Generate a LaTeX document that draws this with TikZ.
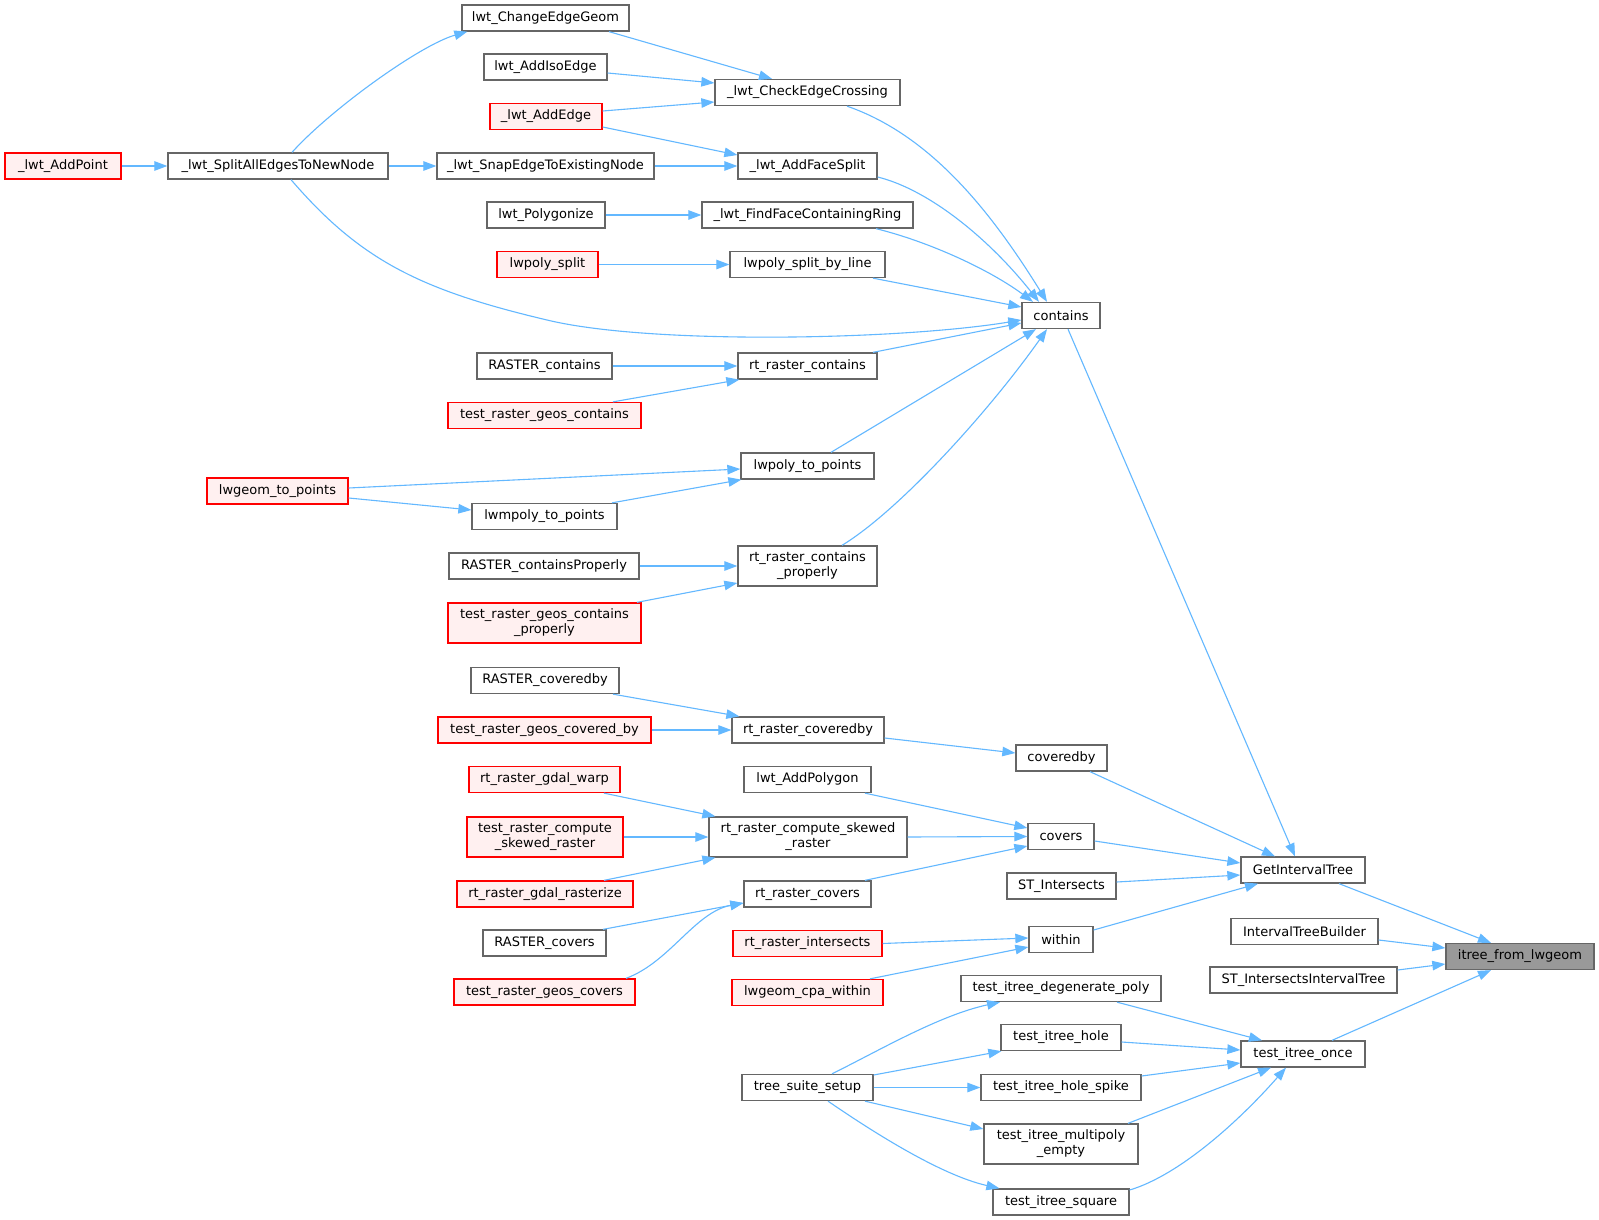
\documentclass[tikz,border=0pt]{standalone}
\usepackage{fontspec}
\setmainfont{DejaVu Sans}
\usetikzlibrary{arrows.meta,calc}
\definecolor{edgeblue}{HTML}{63B8FF}
\definecolor{nodegray}{HTML}{666666}
\definecolor{redfill}{HTML}{FFF0F0}
\definecolor{rootfill}{HTML}{999999}
\tikzset{
 fn/.style={draw=nodegray, fill=white, line width=1.3pt, minimum height=26pt, inner sep=0pt, font=\fontsize{13}{15}\selectfont, text=black, align=center},
 fnred/.style={fn, draw=red, fill=redfill},
 fnroot/.style={fn, fill=rootfill},
 two/.style={minimum height=40pt},
 call/.style={draw=edgeblue, line width=1.1pt, -{Triangle[length=13pt,width=9.5pt]}},
}
\begin{document}
\begin{tikzpicture}[x=1pt,y=-1pt]
\useasboundingbox (0,0) rectangle (1599,1220);
\fill[white] (0,0) rectangle (1599,1220);
% nodes
\node[fn, minimum width=167pt] (ceg) at (545.5,18) {lwt\_ChangeEdgeGeom};
\node[fn, minimum width=123pt] (aie) at (545.5,67) {lwt\_AddIsoEdge};
\node[fnred, minimum width=112pt] (ae) at (546,116.5) {\_lwt\_AddEdge};
\node[fn, minimum width=185pt] (cec) at (807.5,92.5) {\_lwt\_CheckEdgeCrossing};
\node[fnred, minimum width=116pt] (ap) at (63,166) {\_lwt\_AddPoint};
\node[fn, minimum width=220pt] (sae) at (278,166) {\_lwt\_SplitAllEdgesToNewNode};
\node[fn, minimum width=217pt] (snap) at (545.5,166) {\_lwt\_SnapEdgeToExistingNode};
\node[fn, minimum width=139pt] (afs) at (807.5,166) {\_lwt\_AddFaceSplit};
\node[fn, minimum width=118pt] (poly) at (546,215) {lwt\_Polygonize};
\node[fn, minimum width=211pt] (ffcr) at (807.5,215) {\_lwt\_FindFaceContainingRing};
\node[fnred, minimum width=101pt] (lps) at (547.5,264.5) {lwpoly\_split};
\node[fn, minimum width=155pt] (lpsbl) at (807.5,264.5) {lwpoly\_split\_by\_line};
\node[fn, minimum width=78pt] (cont) at (1061,315.5) {contains};
\node[fn, minimum width=135pt] (rc) at (544.5,366) {RASTER\_contains};
\node[fn, minimum width=139pt] (rrc) at (807.5,366) {rt\_raster\_contains};
\node[fnred, minimum width=193pt] (trgc) at (544.5,415.5) {test\_raster\_geos\_contains};
\node[fn, minimum width=133pt] (lptp) at (807.5,466) {lwpoly\_to\_points};
\node[fnred, minimum width=141pt] (lgtp) at (277.5,491) {lwgeom\_to\_points};
\node[fn, minimum width=145pt] (lmtp) at (544.5,516.5) {lwmpoly\_to\_points};
\node[fn, minimum width=190pt] (rcp) at (544,566) {RASTER\_containsProperly};
\node[fn, two, minimum width=139pt] (rrcp) at (807.5,566) {rt\_raster\_contains\\\_properly};
\node[fnred, two, minimum width=193pt] (trgcp) at (544.5,623) {test\_raster\_geos\_contains\\\_properly};
\node[fn, minimum width=148pt] (rcb) at (545,680.5) {RASTER\_coveredby};
\node[fnred, minimum width=213pt] (trgcb) at (544.5,730) {test\_raster\_geos\_covered\_by};
\node[fn, minimum width=152pt] (rrcb) at (808,730) {rt\_raster\_coveredby};
\node[fn, minimum width=91pt] (cb) at (1061.5,758) {coveredby};
\node[fnred, minimum width=151pt] (rgw) at (544.5,779.5) {rt\_raster\_gdal\_warp};
\node[fn, minimum width=127pt] (lap) at (807.5,779.5) {lwt\_AddPolygon};
\node[fnred, two, minimum width=156pt] (trcsr) at (545,837) {test\_raster\_compute\\\_skewed\_raster};
\node[fn, two, minimum width=198pt] (rrcsr) at (808,837) {rt\_raster\_compute\_skewed\\\_raster};
\node[fn, minimum width=66pt] (cov) at (1061,836.5) {covers};
\node[fn, minimum width=124pt] (git) at (1303,870) {GetIntervalTree};
\node[fn, minimum width=109pt] (sti) at (1061.5,886) {ST\_Intersects};
\node[fnred, minimum width=176pt] (rgr) at (545,894) {rt\_raster\_gdal\_rasterize};
\node[fn, minimum width=127pt] (rrcv) at (807.5,894) {rt\_raster\_covers};
\node[fn, minimum width=147pt] (itb) at (1304.5,931.5) {IntervalTreeBuilder};
\node[fn, minimum width=64pt] (win) at (1061,939.5) {within};
\node[fn, minimum width=123pt] (rcv) at (544.5,943) {RASTER\_covers};
\node[fnred, minimum width=149pt] (rri) at (807.5,943.5) {rt\_raster\_intersects};
\node[fnroot, minimum width=148pt] (itl) at (1520,956.5) {itree\_from\_lwgeom};
\node[fn, minimum width=187pt] (stiit) at (1303.5,980) {ST\_IntersectsIntervalTree};
\node[fnred, minimum width=181pt] (trgcv) at (544.5,992) {test\_raster\_geos\_covers};
\node[fnred, minimum width=151pt] (lcw) at (807.5,992.5) {lwgeom\_cpa\_within};
\node[fn, minimum width=200pt] (tidp) at (1061,988.5) {test\_itree\_degenerate\_poly};
\node[fn, minimum width=120pt] (tih) at (1061,1037.5) {test\_itree\_hole};
\node[fn, minimum width=124pt] (tio) at (1303,1054) {test\_itree\_once};
\node[fn, minimum width=131pt] (tss) at (807.5,1087.5) {tree\_suite\_setup};
\node[fn, minimum width=160pt] (tihs) at (1061,1087.5) {test\_itree\_hole\_spike};
\node[fn, two, minimum width=154pt] (timp) at (1061,1144) {test\_itree\_multipoly\\\_empty};
\node[fn, minimum width=136pt] (tisq) at (1061,1202) {test\_itree\_square};
% edges
\draw[call] (ap.east) -- (sae.west);
\draw[call] ($(sae.north)+(14,0)$) .. controls (330,110) and (420,45) .. ($(ceg.south west)+(6,0)$);
\draw[call] (sae.east) -- (snap.west);
\draw[call] ($(sae.south)+(13,0)$) .. controls (360,260) and (420,290) .. (547,320) .. controls (650,345) and (900,340) .. ($(cont.west)+(0,4.5)$);
\draw[call] ($(ceg.south)+(63.5,0)$) -- ($(cec.north)+(-35.5,0)$);
\draw[call] ($(aie.east)+(0,6)$) -- ($(cec.west)+(0,-9.5)$);
\draw[call] ($(ae.east)+(0,-5.5)$) -- ($(cec.west)+(0,9.5)$);
\draw[call] ($(ae.east)+(0,10.5)$) -- ($(afs.west)+(0,-11)$);
\draw[call] (snap.east) -- (afs.west);
\draw[call] (poly.east) -- (ffcr.west);
\draw[call] (lps.east) -- (lpsbl.west);
\draw[call] ($(cec.south)+(39.5,0)$) .. controls (930,135) and (990,210) .. ($(cont.north)+(-14,0)$);
\draw[call] ($(afs.east)+(0,11)$) .. controls (930,190) and (990,240) .. ($(cont.north)+(-22,0)$);
\draw[call] ($(ffcr.south)+(68.5,0)$) .. controls (930,242) and (990,270) .. ($(cont.north)+(-28,0)$);
\draw[call] ($(lpsbl.south)+(65.5,0)$) -- ($(cont.west)+(0,-8.5)$);
\draw[call] ($(rrc.north)+(65.5,0)$) -- ($(cont.west)+(0,7.5)$);
\draw[call] ($(lptp.north)+(23.5,0)$) -- ($(cont.south)+(-25,0)$);
\draw[call] ($(rrcp.north)+(34.5,0)$) .. controls (900,510) and (990,410) .. ($(cont.south)+(-14,0)$);
\draw[call] (rc.east) -- (rrc.west);
\draw[call] ($(trgc.north)+(68.5,0)$) -- ($(rrc.south west)+(2,0)$);
\draw[call] ($(lgtp.east)+(0,-3)$) -- ($(lptp.west)+(0,3)$);
\draw[call] ($(lgtp.east)+(0,7)$) -- ($(lmtp.west)+(0,-6.5)$);
\draw[call] ($(lmtp.north)+(67.5,0)$) -- ($(lptp.south west)+(1,0)$);
\draw[call] (rcp.east) -- (rrcp.west);
\draw[call] ($(trgcp.north)+(92.5,0)$) -- ($(rrcp.west)+(0,17)$);
\draw[call] ($(cont.south)+(7,0)$) -- ($(git.north)+(-8,0)$);
\draw[call] ($(rcb.south)+(68,0)$) -- ($(rrcb.north west)+(8,0)$);
\draw[call] (trgcb.east) -- (rrcb.west);
\draw[call] ($(rrcb.east)+(0,8)$) -- ($(cb.west)+(0,-5)$);
\draw[call] ($(cb.south)+(28.5,0)$) -- ($(git.north)+(-28,0)$);
\draw[call] ($(rgw.south)+(59.5,0)$) -- ($(rrcsr.north west)+(7,0)$);
\draw[call] (trcsr.east) -- (rrcsr.west);
\draw[call] ($(rgr.north)+(59,0)$) -- ($(rrcsr.south west)+(7,0)$);
\draw[call] ($(lap.south)+(57.5,0)$) -- ($(cov.west)+(0,-8.5)$);
\draw[call] (rrcsr.east) -- (cov.west);
\draw[call] ($(rrcv.north)+(57.5,0)$) -- ($(cov.west)+(0,9.5)$);
\draw[call] ($(rcv.north)+(58.5,0)$) -- ($(rrcv.west)+(0,9)$);
\draw[call] ($(trgcv.north)+(81.5,0)$) .. controls (670,962) and (695,912) .. ($(rrcv.west)+(0,9)$);
\draw[call] ($(cov.east)+(0,4.5)$) -- ($(git.west)+(0,-7)$);
\draw[call] ($(sti.east)+(0,-4)$) -- ($(git.west)+(0,5)$);
\draw[call] ($(win.east)+(0,-9.5)$) -- ($(git.south)+(-45,0)$);
\draw[call] (rri.east) -- ($(win.west)+(0,-1.5)$);
\draw[call] ($(lcw.north)+(62.5,0)$) -- ($(win.west)+(0,7.5)$);
\draw[call] ($(git.south)+(36,0)$) -- ($(itl.north)+(-29,0)$);
\draw[call] ($(itb.east)+(0,8.5)$) -- ($(itl.west)+(0,-8.5)$);
\draw[call] ($(stiit.east)+(0,-10)$) -- ($(itl.west)+(0,7.5)$);
\draw[call] ($(tio.north)+(29,0)$) -- ($(itl.south)+(-29,0)$);
\draw[call] ($(tidp.south)+(56,0)$) -- ($(tio.north)+(-41,0)$);
\draw[call] ($(tih.east)+(0,4.5)$) -- ($(tio.west)+(0,-4)$);
\draw[call] ($(tihs.east)+(0,-11.5)$) -- ($(tio.west)+(0,9)$);
\draw[call] ($(timp.north)+(67,0)$) -- ($(tio.south)+(-32,0)$);
\draw[call] ($(tisq.east)+(0,-12)$) .. controls (1180,1175) and (1240,1120) .. ($(tio.south)+(-17,0)$);
\draw[call] ($(tss.north)+(24.5,0)$) .. controls (880,1050) and (940,1015) .. ($(tidp.south)+(-61,0)$);
\draw[call] ($(tss.east)+(0,-12.5)$) -- ($(tih.south west)+(1,0)$);
\draw[call] (tss.east) -- (tihs.west);
\draw[call] ($(tss.south)+(57.5,0)$) -- ($(timp.west)+(0,-15)$);
\draw[call] ($(tss.south)+(20.5,0)$) .. controls (870,1130) and (940,1175) .. ($(tisq.north west)+(7,0)$);
\end{tikzpicture}
\end{document}
